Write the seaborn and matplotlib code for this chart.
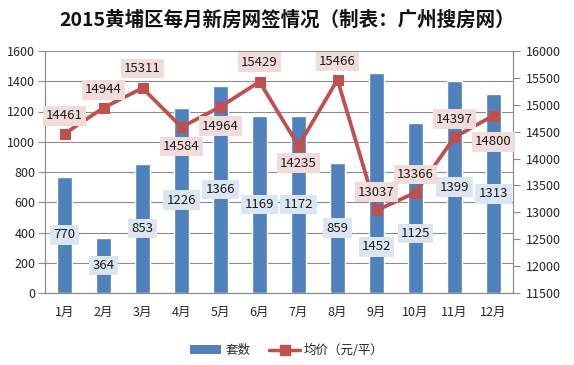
import matplotlib
matplotlib.use('Agg')
import matplotlib.pyplot as plt
from matplotlib.patches import Patch
from matplotlib.lines import Line2D
import seaborn as sns
import numpy as np

months = ["1月", "2月", "3月", "4月", "5月", "6月", "7月", "8月", "9月", "10月", "11月", "12月"]
units = [770, 364, 853, 1226, 1366, 1169, 1172, 859, 1452, 1125, 1399, 1313]
prices = [14461, 14944, 15311, 14584, 14964, 15429, 14235, 15466, 13037, 13366, 14397, 14800]

# label placement (layout only)
bar_label_frac = [0.5, 0.5, 0.5, 0.5, 0.5, 0.5, 0.5, 0.5, 0.21, 0.35, 0.5, 0.5]
price_label_off = [13, 13, 14, -14, -14, 14, -12.5, 13, 13, 13, 13, -19]

sns.set_style('white')
plt.rcParams['font.family'] = ['Noto Sans CJK SC', 'DejaVu Sans']

BLUE = '#4F81BD'
RED = '#C0504D'
GRID = '#8C8C8C'

fig = plt.figure(figsize=(5.74, 3.65), dpi=100)
ax = fig.add_axes([45/574, 1-293/365, (513-45)/574, (293-51)/365])

sns.barplot(x=months, y=units, ax=ax, color=BLUE, width=0.38, saturation=1, zorder=2)
ax.set_ylim(0, 1600)
ax.set_yticks(np.arange(0, 1601, 200))
ax.set_xlim(-0.5, 11.5)
ax.yaxis.grid(True, color=GRID, lw=0.8, zorder=0)
ax.set_axisbelow(True)
ax.set_xlabel('')
ax.set_ylabel('')
ax.tick_params(axis='x', which='major', length=0, pad=9, labelsize=9)
ax.set_xticks(np.arange(-0.5, 12, 1), minor=True)
ax.tick_params(axis='x', which='minor', length=5, color=GRID, direction='out')
ax.tick_params(axis='y', length=5, color=GRID, direction='out', labelsize=9, pad=2)
ax.spines['top'].set_visible(False)
for s in ['left', 'bottom', 'right']:
    ax.spines[s].set_color(GRID)
    ax.spines[s].set_linewidth(0.8)

for i, (v, f) in enumerate(zip(units, bar_label_frac)):
    ax.text(i, v * f, str(v), ha='center', va='center', fontsize=9.5, color='#1a1a1a', zorder=5,
            bbox=dict(boxstyle='square,pad=0.25', fc='#DCE6F2', ec='none'))

ax2 = ax.twinx()
sns.lineplot(x=np.arange(12), y=prices, ax=ax2, color=RED, lw=2.7, marker='s', markersize=7.5,
             markeredgecolor=RED, zorder=4)
ax2.set_ylim(11500, 16000)
ax2.set_yticks(np.arange(11500, 16001, 500))
ax2.tick_params(axis='y', length=5, color=GRID, direction='out', labelsize=9, pad=4)
ax2.spines['top'].set_visible(False)
for s in ['left', 'bottom', 'right']:
    ax2.spines[s].set_color(GRID)
    ax2.spines[s].set_linewidth(0.8)
ax2.grid(False)
ax2.set_xlim(-0.5, 11.5)

for i, (p, off) in enumerate(zip(prices, price_label_off)):
    ax2.annotate(str(p), (i, p), xytext=(0, off), textcoords='offset points',
                 ha='center', va='center', fontsize=9.5, color='#1a1a1a', zorder=6,
                 bbox=dict(boxstyle='square,pad=0.25', fc='#F2DCDB', ec='none'))

fig.text(0.5, 0.945, '2015黄埔区每月新房网签情况（制表：广州搜房网）', ha='center', va='center',
         fontsize=14, fontweight='bold', color='#111111')

handles = [Patch(facecolor=BLUE, edgecolor='none'),
           Line2D([0], [0], color=RED, lw=2.5, marker='s', markersize=7)]
fig.legend(handles, ['套数', '均价（元/平）'], loc='center', bbox_to_anchor=(0.5, 0.04), ncol=2,
           frameon=False, fontsize=9, handlelength=2.5, columnspacing=1.5, handletextpad=0.3)

fig.savefig('out.png', dpi=100)
